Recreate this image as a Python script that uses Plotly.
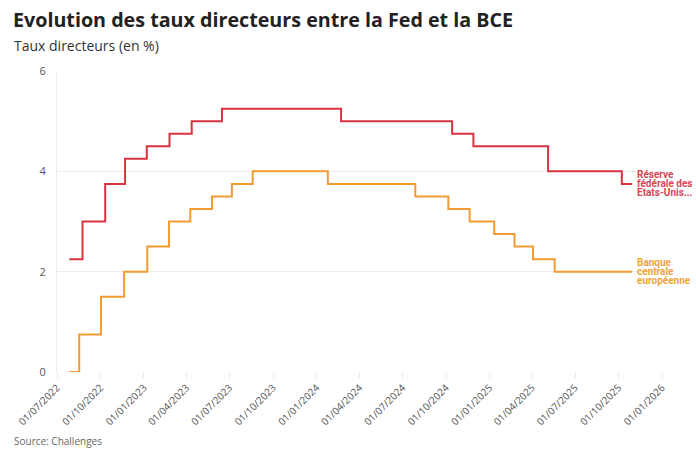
import plotly.graph_objects as go

# Fed (Réserve fédérale des Etats-Unis) step dates and values
fed_dates = ["2022-07-27", "2022-08-24", "2022-10-11", "2022-11-22", "2023-01-07",
             "2023-02-24", "2023-04-12", "2023-06-15", "2024-02-22", "2024-10-14",
             "2024-11-28", "2025-05-05", "2025-10-08", "2025-10-30"]
fed_values = [2.25, 3.0, 3.75, 4.25, 4.5, 4.75, 5.0, 5.25, 5.0, 4.75, 4.5, 4.0, 3.75, 3.75]

# BCE (Banque centrale européenne)
bce_dates = ["2022-07-27", "2022-08-17", "2022-10-02", "2022-11-20", "2023-01-08",
             "2023-02-23", "2023-04-09", "2023-05-25", "2023-07-06", "2023-08-19",
             "2024-01-25", "2024-07-28", "2024-10-06", "2024-11-20", "2025-01-11",
             "2025-02-23", "2025-04-03", "2025-05-19", "2025-10-30"]
bce_values = [0, 0.75, 1.5, 2.0, 2.5, 3.0, 3.25, 3.5, 3.75, 4.0,
              3.75, 3.5, 3.25, 3.0, 2.75, 2.5, 2.25, 2.0, 2.0]

tick_vals = ["2022-07-01", "2022-10-01", "2023-01-01", "2023-04-01", "2023-07-01",
             "2023-10-01", "2024-01-01", "2024-04-01", "2024-07-01", "2024-10-01",
             "2025-01-01", "2025-04-01", "2025-07-01", "2025-10-01", "2026-01-01"]
tick_text = ["01/07/2022", "01/10/2022", "01/01/2023", "01/04/2023", "01/07/2023",
             "01/10/2023", "01/01/2024", "01/04/2024", "01/07/2024", "01/10/2024",
             "01/01/2025", "01/04/2025", "01/07/2025", "01/10/2025", "01/01/2026"]

fed_label = ["Réserve", "fédérale des", "Etats-Unis..."]
bce_label = ["Banque", "centrale", "européenne"]

RED = "#d9323f"
ORANGE = "#f39b32"
RED_LBL = "#d84556"
ORANGE_LBL = "#f0a43c"
FONT = "Open Sans"

fig = go.Figure()
fig.add_trace(go.Scatter(x=fed_dates, y=fed_values, mode="lines",
                         line=dict(color=RED, width=2, shape="hv"),
                         name="Réserve fédérale des Etats-Unis"))
fig.add_trace(go.Scatter(x=bce_dates, y=bce_values, mode="lines",
                         line=dict(color=ORANGE, width=2, shape="hv"),
                         name="Banque centrale européenne"))

annotations = []
for lines, dates, vals, col in [(fed_label, fed_dates, fed_values, RED_LBL),
                                (bce_label, bce_dates, bce_values, ORANGE_LBL)]:
    for i, t in enumerate(lines):
        annotations.append(dict(
            x=dates[-1], y=vals[-1], xref="x", yref="y", text="<b>" + t + "</b>",
            showarrow=False, xanchor="left", yanchor="middle",
            xshift=4, yshift=9 - 9 * i, borderpad=0,
            font=dict(family="Roboto", size=10, color=col)))

annotations.append(dict(
    x=-0.0722, y=1.0854, xref="paper", yref="paper", text="Taux directeurs (en %)",
    showarrow=False, xanchor="left", yanchor="middle", borderpad=0,
    font=dict(family=FONT, size=14, color="#333333")))
annotations.append(dict(
    x=-0.0722, y=-0.230, xref="paper", yref="paper", text="Source: Challenges",
    showarrow=False, xanchor="left", yanchor="middle", borderpad=0,
    font=dict(family=FONT, size=10, color="#666666")))

fig.update_layout(
    width=696, height=450,
    margin=dict(l=57, r=34, t=71, b=78, autoexpand=False),
    paper_bgcolor="white", plot_bgcolor="white",
    showlegend=False,
    title=dict(text="<b>Evolution des taux directeurs entre la Fed et la BCE</b>",
               x=13 / 696, xref="container", xanchor="left",
               y=1 - 20 / 450, yref="container", yanchor="middle",
               pad=dict(l=0, r=0, t=0, b=0),
               font=dict(family=FONT, size=19.7, color="#222222")),
    annotations=annotations,
    xaxis=dict(range=["2022-07-01", "2026-01-01"], tickvals=tick_vals, ticktext=tick_text,
               tickangle=-45, showgrid=False, ticks="outside", ticklen=5,
               tickcolor="#e6e6e6", showline=False, zeroline=False, automargin=False,
               tickfont=dict(family=FONT, size=10, color="#555555")),
    yaxis=dict(range=[0, 6], tickvals=[0, 2, 4, 6], showgrid=True, gridcolor="#ececec",
               gridwidth=1, zeroline=False, showline=True, linecolor="#ececec",
               ticks="", ticklabelstandoff=8, automargin=False,
               tickfont=dict(family=FONT, size=11, color="#555555")),
)

fig.write_html("out.html", config={"displayModeBar": False},
               post_script="document.body.style.margin='0';document.body.style.overflow='hidden';")
